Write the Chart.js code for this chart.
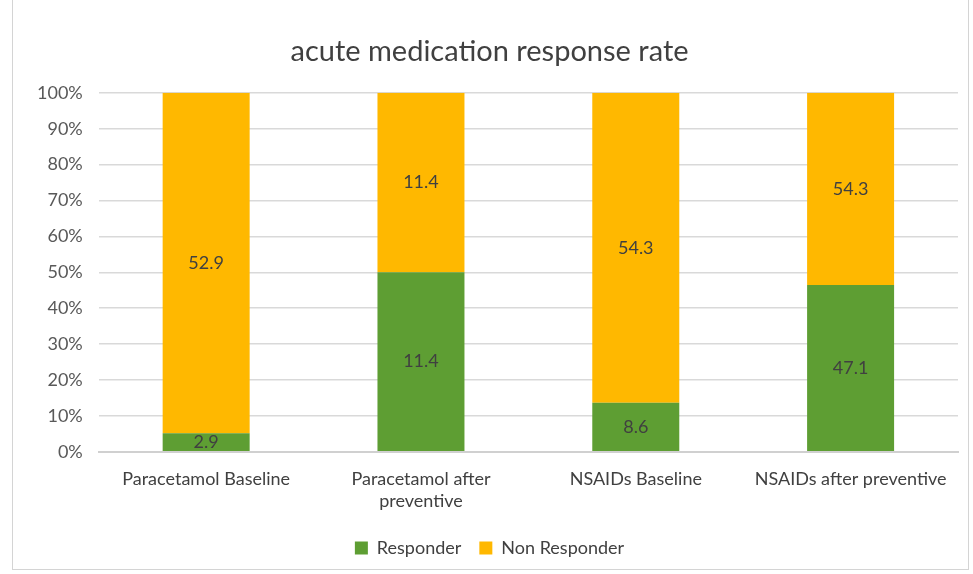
<!DOCTYPE html>
<html lang="en">
  <head>
    <meta charset="UTF-8" />
    <script src="https://cdn.jsdelivr.net/npm/chart.js"></script>
    <title>acute medication response rate</title>
    <style>
      body { margin: 0; background: #fff; }
      #wrap { position: absolute; left: 12px; top: -2px; width: 955px; height: 570px; border: 1px solid #d4d4d4; }
    </style>
  </head>
  <body>
    <div id="wrap"><canvas id="myChart"></canvas></div>
    <script>
      var categorias = [
        "Paracetamol Baseline",
        ["Paracetamol after", "preventive"],
        "NSAIDs Baseline",
        "NSAIDs after preventive",
      ];
      var responder = [2.9, 11.4, 8.6, 47.1];
      var noResponder = [52.9, 11.4, 54.3, 54.3];

      // 100% stacked: convert each pair to shares of its bar
      var pctResponder = responder.map(function (v, i) { return (v / (v + noResponder[i])) * 100; });
      var pctNoResponder = noResponder.map(function (v, i) { return (v / (v + responder[i])) * 100; });
      var crudos = [responder, noResponder];

      var etiquetas = {
        id: "etiquetas",
        afterDatasetsDraw: function (chart) {
          var c = chart.ctx;
          c.save();
          c.font = "18px Lato";
          c.fillStyle = "#404040";
          c.textAlign = "center";
          c.textBaseline = "middle";
          chart.data.datasets.forEach(function (ds, d) {
            chart.getDatasetMeta(d).data.forEach(function (bar, i) {
              var y = (bar.y + bar.base) / 2;
              c.fillText(crudos[d][i].toFixed(1), bar.x, y);
            });
          });
          c.restore();
        },
      };

      var ctx = document.getElementById("myChart");
      var myChart = new Chart(ctx, {
        type: "bar",
        data: {
          labels: categorias,
          datasets: [
            { label: "Responder", data: pctResponder, backgroundColor: "#5E9E33" },
            { label: "Non Responder", data: pctNoResponder, backgroundColor: "#FFB800" },
          ],
        },
        options: {
          responsive: true,
          maintainAspectRatio: false,
          animation: false,
          layout: { padding: { left: 8, right: 10, top: 0, bottom: 2 } },
          datasets: { bar: { categoryPercentage: 1, barPercentage: 0.405 } },
          plugins: {
            title: {
              display: true,
              text: "acute medication response rate",
              color: "#404040",
              font: { family: "Lato", size: 29, weight: "normal" },
              padding: { top: 35, bottom: 24 },
            },
            legend: {
              position: "bottom",
              labels: {
                color: "#404040",
                font: { family: "Lato", size: 18 },
                boxWidth: 13,
                boxHeight: 13,
                padding: 18,
              },
            },
            tooltip: { enabled: false },
          },
          scales: {
            x: {
              stacked: true,
              grid: { display: false },
              border: { color: "#d0d0d0", width: 2 },
              ticks: { color: "#404040", font: { family: "Lato", size: 18 }, padding: 9 },
            },
            y: {
              stacked: true,
              min: 0,
              max: 100,
              border: { display: false },
              grid: { color: "#d9d9d9", lineWidth: 1.5, drawTicks: false },
              ticks: {
                stepSize: 10,
                color: "#595959",
                font: { family: "Lato", size: 18 },
                padding: 16,
                callback: function (v) { return v + "%"; },
              },
            },
          },
        },
        plugins: [etiquetas],
      });
    </script>
  </body>
</html>
